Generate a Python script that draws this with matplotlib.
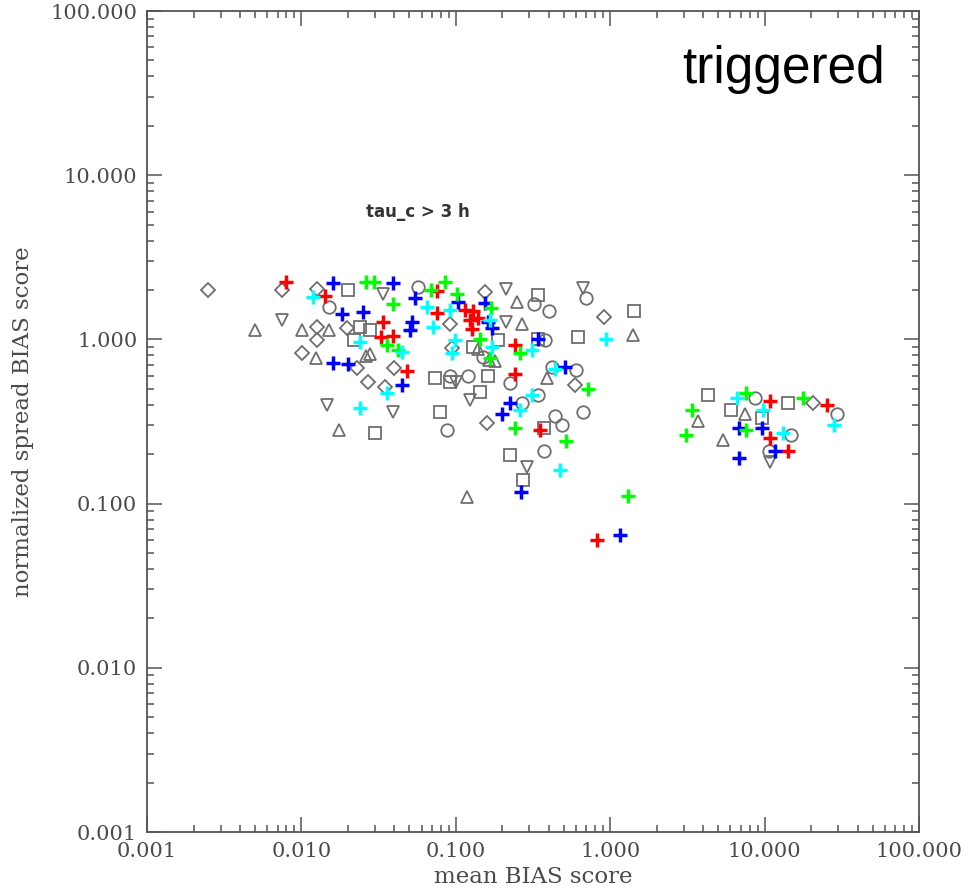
import numpy as np
import matplotlib
matplotlib.use("Agg")
import matplotlib.pyplot as plt
from matplotlib.ticker import LogLocator, FormatStrFormatter, NullFormatter

# gray open symbols (x = mean BIAS, y = normalized spread BIAS)
diam_x = [0.0025, 0.0075, 0.0126, 0.0126, 0.0126, 0.0101, 0.0197, 0.023, 0.027, 0.035,
          0.040, 0.155, 0.092, 0.095, 0.16, 0.91, 0.59, 20.5]
diam_y = [2.0, 2.0, 2.04, 1.19, 0.99, 0.83, 1.17, 0.67, 0.55, 0.51,
          0.67, 1.95, 1.25, 0.89, 0.31, 1.37, 0.53, 0.41]

tri_x = [0.005, 0.0101, 0.015, 0.0125, 0.0175, 0.028, 0.026, 0.25, 0.27, 0.18,
         0.39, 1.4, 0.118, 3.7, 5.4, 7.5, 0.14, 0.165]
tri_y = [1.14, 1.14, 1.14, 0.77, 0.28, 0.81, 0.79, 1.68, 1.24, 0.74,
         0.58, 1.07, 0.11, 0.32, 0.245, 0.35, 0.88, 0.75]

dtri_x = [0.0075, 0.0147, 0.034, 0.039, 0.21, 0.21, 0.124, 0.67, 0.29, 10.8, 0.10]
dtri_y = [1.31, 0.40, 1.9, 0.36, 2.04, 1.27, 0.43, 2.06, 0.168, 0.18, 0.55]

sq_x = [0.020, 0.022, 0.028, 0.024, 0.030, 0.073, 0.092, 0.162, 0.143, 0.079,
        0.188, 0.34, 0.62, 1.43, 0.224, 0.272, 0.37, 4.3, 6.1, 9.6, 14.2, 0.34, 0.13]
sq_y = [2.0, 0.99, 1.14, 1.19, 0.27, 0.58, 0.55, 0.60, 0.48, 0.36,
        0.99, 1.86, 1.03, 1.5, 0.197, 0.14, 0.29, 0.46, 0.37, 0.33, 0.41, 1.0, 0.9]

circ_x = [0.015, 0.057, 0.092, 0.12, 0.224, 0.27, 0.32, 0.70, 0.38, 0.34,
          0.42, 0.60, 0.67, 0.44, 0.49, 0.37, 0.088, 8.7, 29.5, 14.9, 10.6, 0.40, 0.15]
circ_y = [1.57, 2.1, 0.60, 0.6, 0.54, 0.41, 1.65, 1.8, 0.99, 0.46,
          0.68, 0.65, 0.36, 0.34, 0.30, 0.21, 0.28, 0.44, 0.35, 0.26, 0.21, 1.5, 0.78]

# coloured crosses
red_x = [0.0080, 0.0142, 0.034, 0.033, 0.039, 0.048, 0.076, 0.076, 0.114, 0.13,
         0.124, 0.127, 0.139, 0.241, 0.241, 0.351, 0.82, 10.8, 25.5, 10.8, 14.2]
red_y = [2.25, 1.85, 1.28, 1.03, 1.05, 0.64, 1.97, 1.45, 1.51, 1.48,
         1.31, 1.15, 1.35, 0.93, 0.62, 0.28, 0.060, 0.42, 0.40, 0.25, 0.21]

blue_x = [0.016, 0.039, 0.0183, 0.025, 0.016, 0.020, 0.054, 0.052, 0.0505, 0.045,
          0.103, 0.155, 0.162, 0.172, 0.34, 0.51, 0.224, 0.20, 0.265, 1.16,
          6.8, 9.6, 11.6, 6.8]
blue_y = [2.2, 2.2, 1.42, 1.47, 0.72, 0.71, 1.78, 1.27, 1.14, 0.53,
          1.68, 1.66, 1.28, 1.18, 1.0, 0.68, 0.41, 0.35, 0.118, 0.064,
          0.29, 0.29, 0.21, 0.19]

green_x = [0.026, 0.0295, 0.039, 0.036, 0.042, 0.085, 0.069, 0.102, 0.17, 0.143,
           0.166, 0.26, 0.241, 0.52, 0.72, 1.3, 3.1, 3.4, 7.6, 7.6, 17.8]
green_y = [2.24, 2.24, 1.65, 0.93, 0.86, 2.24, 2.0, 1.9, 1.55, 1.01,
           0.77, 0.83, 0.29, 0.24, 0.50, 0.112, 0.26, 0.37, 0.47, 0.28, 0.44]

cyan_x = [0.0119, 0.024, 0.024, 0.036, 0.045, 0.065, 0.071, 0.092, 0.099, 0.095,
          0.166, 0.172, 0.31, 0.44, 0.31, 0.26, 0.47, 0.94, 6.6, 9.8, 13.2, 28.0]
cyan_y = [1.81, 0.97, 0.38, 0.47, 0.84, 1.57, 1.19, 1.51, 0.99, 0.83,
          1.31, 0.9, 0.86, 0.66, 0.46, 0.37, 0.16, 1.0, 0.44, 0.37, 0.27, 0.30]

gray = '#6e6e6e'
axc = '#555555'

fig = plt.figure(figsize=(9.63, 8.96), dpi=100)
ax = fig.add_axes([0.1527, 0.0714, 0.8016, 0.9163])

ax.plot(diam_x, diam_y, 'D', ms=7.0, mfc='none', mec=gray, mew=1.3, ls='none')
ax.plot(tri_x, tri_y, '^', ms=9, mfc='none', mec=gray, mew=1.3, ls='none')
ax.plot(dtri_x, dtri_y, 'v', ms=9, mfc='none', mec=gray, mew=1.3, ls='none')
ax.plot(sq_x, sq_y, 's', ms=9, mfc='none', mec=gray, mew=1.3, ls='none')
ax.plot(circ_x, circ_y, 'o', ms=9, mfc='none', mec=gray, mew=1.3, ls='none')

for xs, ys, c in [(red_x, red_y, '#ff0000'), (blue_x, blue_y, '#0000ff'),
                  (green_x, green_y, '#00ff00'), (cyan_x, cyan_y, '#00ffff')]:
    ax.plot(xs, ys, '+', ms=10.5, mec=c, mew=2.5, ls='none')

ax.set_xscale('log')
ax.set_yscale('log')
ax.set_xlim(0.001, 100)
ax.set_ylim(0.001, 100)

for a in (ax.xaxis, ax.yaxis):
    a.set_major_locator(LogLocator(base=10, numticks=10))
    a.set_minor_locator(LogLocator(base=10, subs=np.arange(2, 10), numticks=10))
    a.set_major_formatter(FormatStrFormatter('%.3f'))
    a.set_minor_formatter(NullFormatter())

ax.tick_params(which='both', direction='in', top=True, right=True, color=axc,
               labelcolor='#4a4a4a', width=1.1)
ax.tick_params(which='major', length=11, pad=7)
ax.tick_params(which='minor', length=5)
for lab in ax.get_xticklabels() + ax.get_yticklabels():
    lab.set_fontfamily('DejaVu Serif')
    lab.set_fontsize(15)
for s in ax.spines.values():
    s.set_color(axc)
    s.set_linewidth(1.3)

ax.set_xlabel('mean BIAS score', family='DejaVu Serif', fontsize=16.5,
              color='#4a4a4a', labelpad=4)
ax.set_ylabel('normalized spread BIAS score', family='DejaVu Serif', fontsize=16.5,
              color='#4a4a4a', labelpad=12)

ax.text(0.351, 0.755, 'tau_c > 3 h', transform=ax.transAxes, ha='center', va='center',
        fontsize=12, fontweight='bold', color='#333333', family='DejaVu Sans')
ax.text(0.824, 0.912, 'triggered', transform=ax.transAxes, ha='center', va='baseline',
        fontsize=37, color='black', family='Liberation Sans')

fig.savefig('out.png', dpi=100, facecolor='white')
